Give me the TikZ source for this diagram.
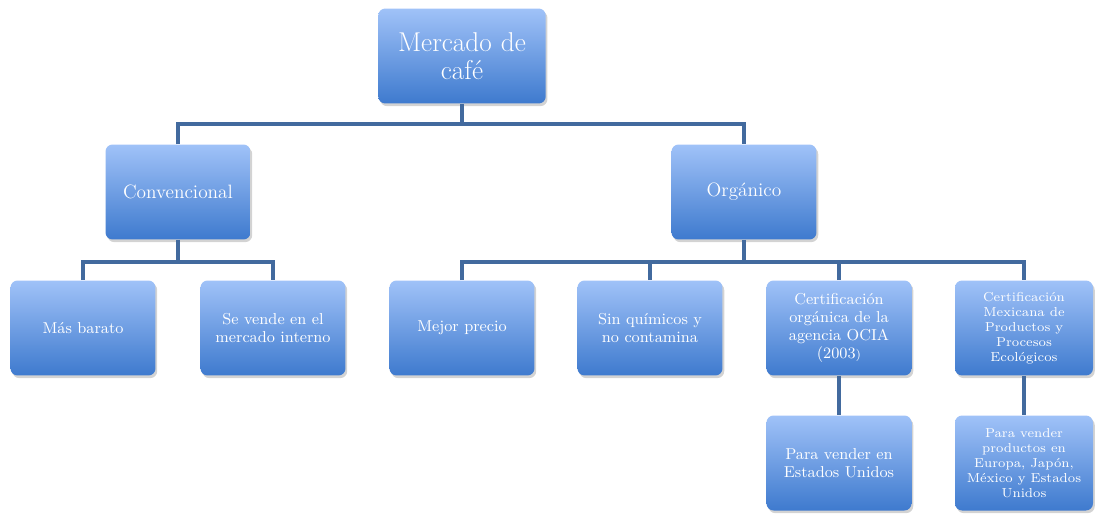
\documentclass[tikz,border=0pt]{standalone}
\usetikzlibrary{shadows}

\definecolor{boxtop}{RGB}{160,194,248}
\definecolor{boxbot}{RGB}{62,122,206}
\definecolor{linkblue}{RGB}{66,106,158}

\tikzset{
  box/.style={rounded corners=4pt, top color=boxtop, bottom color=boxbot,
    draw=none, drop shadow={opacity=0.35, shadow xshift=1pt, shadow yshift=-1.5pt},
    minimum width=2.9cm, minimum height=1.9cm, text=white, align=center,
    inner sep=1pt, font=\fontsize{9}{10.2}\selectfont},
  link/.style={linkblue, line width=2.8pt}
}

\begin{document}
\begin{tikzpicture}[x=0.02cm, y=-0.02cm]
   \useasboundingbox (0,0) rectangle (1095,518);

   % top level
   \node [box, minimum width=3.35cm, text width=3.2cm, font=\fontsize{15.5}{16}\selectfont]
      (mercado) at (462,56) {Mercado de\\café};

   % second level
   \node [box, font=\fontsize{11}{12}\selectfont] (conv) at (178,192) {Convencional};
   \node [box, font=\fontsize{11}{12}\selectfont] (org) at (744,192) {Orgánico};

   % third level
   \node [box] (barato) at (83,328) {Más barato};
   \node [box] (interno) at (273,328) {Se vende en el\\mercado interno};
   \node [box] (precio) at (462,328) {Mejor precio};
   \node [box] (quimicos) at (650,328) {Sin químicos y\\no contamina};
   \node [box] (ocia) at (839,328) {Certificación\\orgánica de la\\agencia OCIA\\(2003{\scriptsize)}};
   \node [box, minimum width=2.76cm, font=\fontsize{7.4}{8.6}\selectfont]
      (mexicana) at (1024,328) {Certificación\\Mexicana de\\Productos y\\Procesos\\Ecológicos};

   % fourth level
   \node [box] (eu) at (839,463) {Para vender en\\Estados Unidos};
   \node [box, minimum width=2.76cm, font=\fontsize{7.4}{8.6}\selectfont]
      (mundo) at (1024,463) {Para vender\\productos en\\Europa, Japón,\\México y Estados\\Unidos};

   % connectors
   \coordinate (j1) at (462,124);
   \draw [link] (mercado.south) -- (j1);
   \draw [link] (conv.north) |- (j1) -| (org.north);

   \coordinate (j2) at (178,262);
   \draw [link] (conv.south) -- (j2);
   \draw [link] (barato.north) |- (j2) -| (interno.north);

   \coordinate (j3) at (744,262);
   \draw [link] (org.south) -- (j3);
   \draw [link] (precio.north) |- (j3) -| (mexicana.north);
   \draw [link] (quimicos.north) -- (quimicos.north |- j3);
   \draw [link] (ocia.north) -- (ocia.north |- j3);

   \draw [link] (ocia) -- (eu);
   \draw [link] (mexicana) -- (mundo);
\end{tikzpicture}
\end{document}
